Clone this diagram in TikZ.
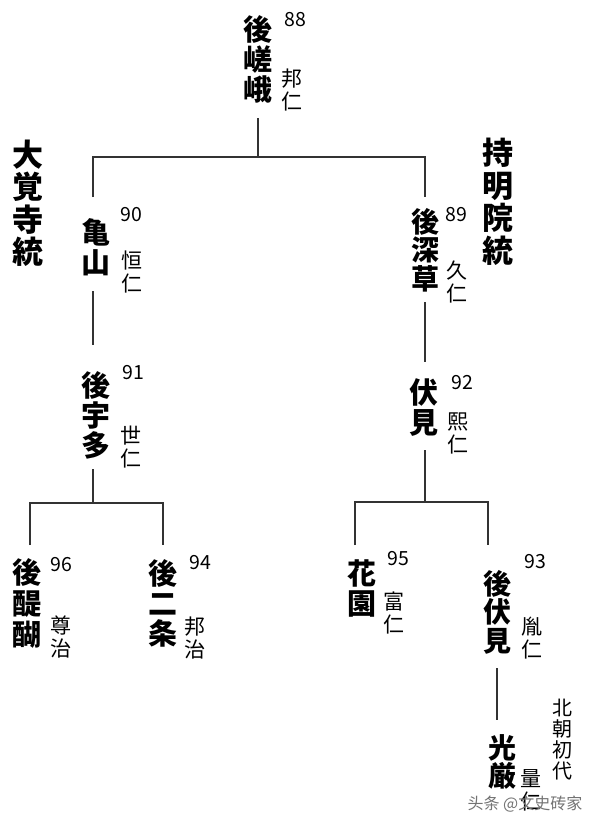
\documentclass[tikz,border=0pt]{standalone}
\usepackage{fontspec}
\newfontfamily\jp{Noto Sans CJK JP}
\newfontfamily\zhsc{Noto Sans CJK SC}
\begin{document}
\begin{tikzpicture}[x=1pt,y=-1pt,
  namebox/.style={inner sep=0pt,align=center,font=\jp\bfseries\fontsize{29}{30}\selectfont},
  sidebox/.style={inner sep=0pt,align=center,font=\jp\bfseries\fontsize{31}{32.5}\selectfont},
  numbox/.style={inner sep=0pt,font=\jp\fontsize{19.5}{19.5}\selectfont},
  pnbox/.style={inner sep=0pt,align=center,font=\jp\fontsize{21}{23}\selectfont},
  link/.style={draw=black!80,line width=1.4pt}]
\useasboundingbox[fill=white] (0,0) rectangle (600,823);

% side labels
\node[sidebox] (daikakuji) at (28,203) {大\\覚\\寺\\統};
\node[sidebox] (jimyoin) at (498,202) {持\\明\\院\\統};

% emperors
\node[namebox] (gosaga) at (258,59) {後\\嵯\\峨};
\node[numbox] (n88) at (295,20) {88};
\node[pnbox] (p88) at (292,90) {邦\\仁};

\node[namebox] (kameyama) at (96,247) {亀\\山};
\node[numbox] (n90) at (131,215) {90};
\node[pnbox] (p90) at (132,272) {恒\\仁};

\node[namebox,font=\jp\bfseries\fontsize{28}{28.5}\selectfont] (gofukakusa) at (425,250) {後\\深\\草};
\node[numbox] (n89) at (456,215) {89};
\node[pnbox] (p89) at (457,282) {久\\仁};

\node[namebox] (gouda) at (96,415) {後\\宇\\多};
\node[numbox] (n91) at (133,373) {91};
\node[pnbox] (p91) at (131,447) {世\\仁};

\node[namebox] (fushimi) at (424,408) {伏\\見};
\node[numbox] (n92) at (462,383) {92};
\node[pnbox] (p92) at (458,433) {熙\\仁};

\node[namebox,font=\jp\bfseries\fontsize{29}{31}\selectfont] (godaigo) at (27,603) {後\\醍\\醐};
\node[numbox] (n96) at (61,565) {96};
\node[pnbox] (p96) at (61,637) {尊\\治};

\node[namebox] (gonijo) at (163,603) {後\\二\\条};
\node[numbox] (n94) at (200,563) {94};
\node[pnbox] (p94) at (195,638) {邦\\治};

\node[namebox] (hanazono) at (362,588) {花\\園};
\node[numbox] (n95) at (398,559) {95};
\node[pnbox] (p95) at (394,613) {富\\仁};

\node[namebox,font=\jp\bfseries\fontsize{28}{28.5}\selectfont] (gofushimi) at (497,612) {後\\伏\\見};
\node[numbox] (n93) at (535,562) {93};
\node[pnbox] (p93) at (532,638) {胤\\仁};

\node[namebox,font=\jp\bfseries\fontsize{28}{28}\selectfont] (kogon) at (502,762) {光\\厳};
\node[pnbox] (p1) at (531,790) {量\\仁};
\node[pnbox,font=\jp\fontsize{20}{21}\selectfont] (hokucho) at (562,740) {北\\朝\\初\\代};

% watermark
\node[inner sep=0pt,font=\zhsc\fontsize{16}{16}\selectfont,text=black!55] (wm) at (525,804) {头条 @文史砖家};

% junction coordinates
\coordinate (gosaga-b) at (258,118);
\coordinate (j0) at (258,157);
\coordinate (jl) at (93,157);
\coordinate (jr) at (425,157);
\coordinate (kameyama-t) at (93,197);
\coordinate (gofukakusa-t) at (425,197);
\coordinate (kameyama-b) at (93,291);
\coordinate (gouda-t) at (93,345);
\coordinate (gofukakusa-b) at (425,302);
\coordinate (fushimi-t) at (425,362);
\coordinate (gouda-b) at (93,469);
\coordinate (j1) at (93,503);
\coordinate (j1l) at (30,503);
\coordinate (j1r) at (163,503);
\coordinate (godaigo-t) at (30,545);
\coordinate (gonijo-t) at (163,545);
\coordinate (fushimi-b) at (425,450);
\coordinate (j2) at (425,502);
\coordinate (j2l) at (355,502);
\coordinate (j2r) at (488,502);
\coordinate (hanazono-t) at (355,545);
\coordinate (gofushimi-t) at (488,545);
\coordinate (gofushimi-b) at (497,668);
\coordinate (kogon-t) at (497,720);

\draw[link] (gosaga-b) -- (j0);
\draw[link] (kameyama-t) -- (jl) -- (jr) -- (gofukakusa-t);
\draw[link] (kameyama-b) -- (gouda-t);
\draw[link] (gofukakusa-b) -- (fushimi-t);
\draw[link] (gouda-b) -- (j1);
\draw[link] (godaigo-t) -- (j1l) -- (j1r) -- (gonijo-t);
\draw[link] (fushimi-b) -- (j2);
\draw[link] (hanazono-t) -- (j2l) -- (j2r) -- (gofushimi-t);
\draw[link] (gofushimi-b) -- (kogon-t);
\end{tikzpicture}
\end{document}
